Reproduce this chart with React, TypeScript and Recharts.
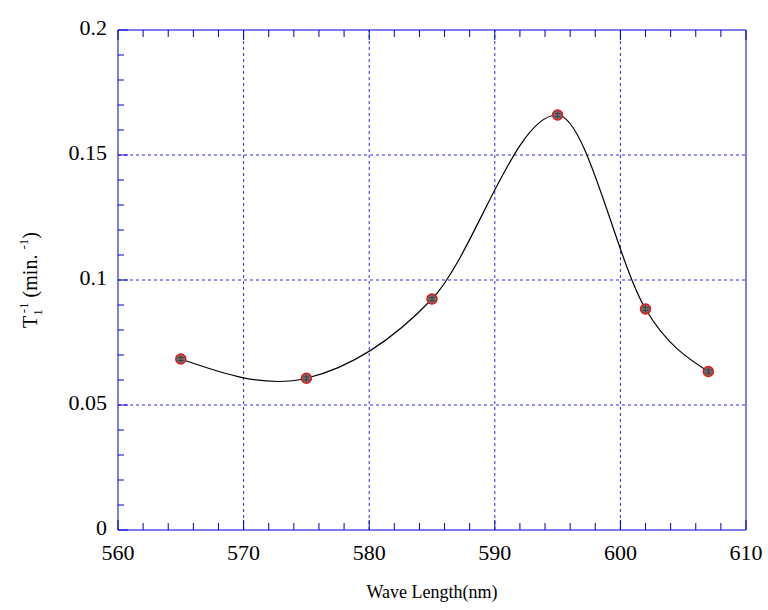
import { LineChart, Line, XAxis, YAxis, ReferenceLine } from "recharts";

// T1^-1 relaxation rate vs wavelength
const wavelength = [565, 575, 585, 595, 602, 607];
const rate = [0.0684, 0.0607, 0.0924, 0.166, 0.0884, 0.0634];

const xTicks = [560, 562, 564, 566, 568, 570, 572, 574, 576, 578, 580, 582, 584, 586, 588, 590, 592, 594, 596, 598, 600, 602, 604, 606, 608, 610];
const xMajor = [560, 570, 580, 590, 600, 610];
const xGrid = [570, 580, 590, 600];

const yTicks = [0, 0.01, 0.02, 0.03, 0.04, 0.05, 0.06, 0.07, 0.08, 0.09, 0.1, 0.11, 0.12, 0.13, 0.14, 0.15, 0.16, 0.17, 0.18, 0.19, 0.2];
const yMajor = [0, 0.05, 0.1, 0.15, 0.2];
const yGrid = [0.05, 0.1, 0.15];

const data = wavelength.map((wl, i) => ({ wl, t1: rate[i] }));

const AXIS = "#0000d0";
const GRID = "#2a2ae8";
const FONT = '"Liberation Serif", "Times New Roman", serif';
const txt = { fontFamily: FONT };

// smooth curve y(x): Hermite segments with finite-difference tangents
function smoothX(context: any) {
  let xs: number[] = [];
  let ys: number[] = [];
  return {
    areaStart() {},
    areaEnd() {},
    lineStart() {
      xs = [];
      ys = [];
    },
    point(x: number, y: number) {
      xs.push(+x);
      ys.push(+y);
    },
    lineEnd() {
      const n = xs.length;
      if (!n) return;
      context.moveTo(xs[0], ys[0]);
      if (n < 3) {
        if (n === 2) context.lineTo(xs[1], ys[1]);
        return;
      }
      const t: number[] = new Array(n).fill(0);
      for (let i = 1; i < n - 1; i++) t[i] = (ys[i + 1] - ys[i - 1]) / (xs[i + 1] - xs[i - 1]);
      const s0 = (ys[1] - ys[0]) / (xs[1] - xs[0]);
      const sn = (ys[n - 1] - ys[n - 2]) / (xs[n - 1] - xs[n - 2]);
      t[0] = (3 * s0 - t[1]) / 2;
      t[n - 1] = (3 * sn - t[n - 2]) / 2;
      for (let i = 0; i < n - 1; i++) {
        const h = xs[i + 1] - xs[i];
        context.bezierCurveTo(
          xs[i] + h / 3,
          ys[i] + (t[i] * h) / 3,
          xs[i + 1] - h / 3,
          ys[i + 1] - (t[i + 1] * h) / 3,
          xs[i + 1],
          ys[i + 1]
        );
      }
    },
  };
}

function BottomTick({ x, y, payload }: any) {
  const v = payload.value;
  const major = xMajor.includes(v);
  return (
    <g>
      <line x1={x} x2={x} y1={y} y2={y - (major ? 10 : 7)} stroke={AXIS} />
      {major && (
        <text x={x} y={y + 30} textAnchor="middle" fontSize={22} fontFamily={FONT} style={txt} fill="#000">
          {v}
        </text>
      )}
    </g>
  );
}

function TopTick({ x, y, payload }: any) {
  const major = xMajor.includes(payload.value);
  return <line x1={x} x2={x} y1={y} y2={y + (major ? 10 : 7)} stroke={AXIS} />;
}

function LeftTick({ x, y, payload }: any) {
  const v = payload.value;
  const major = yMajor.includes(v);
  return (
    <g>
      <line x1={x} x2={x + (major ? 10 : 6)} y1={y} y2={y} stroke={AXIS} />
      {major && (
        <text x={x - 11} y={y + 5} textAnchor="end" fontSize={22} fontFamily={FONT} style={txt} fill="#000">
          {String(v)}
        </text>
      )}
    </g>
  );
}

function RightTick({ x, y, payload }: any) {
  const major = yMajor.includes(payload.value);
  return <line x1={x} x2={x - (major ? 10 : 6)} y1={y} y2={y} stroke={AXIS} />;
}

const xLabel = ({ viewBox }: any) => (
  <text x={viewBox.x + viewBox.width / 2} y={viewBox.y + 68} textAnchor="middle" fontSize={18} fontFamily={FONT} style={txt} fill="#000">
    Wave Length(nm)
  </text>
);

const yLabel = ({ viewBox }: any) => {
  const cx = 37;
  const cy = viewBox.y + viewBox.height / 2;
  return (
    <text x={cx} y={cy} transform={`rotate(-90 ${cx} ${cy})`} textAnchor="middle" fontSize={20} fontFamily={FONT} style={txt} fill="#000">
      <tspan>T</tspan>
      <tspan fontSize={13} dy={5}>1</tspan>
      <tspan fontSize={13} dx={-4} dy={-14}>-1</tspan>
      <tspan dy={9}> (min. </tspan>
      <tspan fontSize={13} dy={-9}>-1</tspan>
      <tspan dy={9}>)</tspan>
    </text>
  );
};

const Marker = ({ cx, cy, index }: any) => (
  <g key={`m-${index}`}>
    <circle cx={cx} cy={cy} r={5} fill="#6e6e6e" stroke="#e01818" strokeWidth={1.5} />
    <line x1={cx - 3} x2={cx + 3} y1={cy - 1.5} y2={cy - 1.5} stroke="#333" strokeWidth={0.7} />
    <line x1={cx - 3} x2={cx + 3} y1={cy + 1.5} y2={cy + 1.5} stroke="#333" strokeWidth={0.7} />
    <line x1={cx} x2={cx} y1={cy - 3.5} y2={cy + 3.5} stroke="#333" strokeWidth={0.7} />
  </g>
);

export default function App() {
  return (
    <div style={{ position: "absolute", left: 0, top: 0, width: 768, height: 610, background: "#fff", fontFamily: FONT }}>
      <LineChart width={768} height={610} data={data} margin={{ top: 0, right: 0, bottom: 0, left: 0 }}>
        <XAxis
          dataKey="wl"
          type="number"
          domain={[560, 610]}
          ticks={xTicks}
          interval={0}
          height={80}
          tickSize={0}
          tickMargin={0}
          tickLine={false}
          axisLine={{ stroke: AXIS }}
          tick={BottomTick}
          label={xLabel}
        />
        <XAxis
          xAxisId="top"
          orientation="top"
          dataKey="wl"
          type="number"
          domain={[560, 610]}
          ticks={xTicks}
          interval={0}
          height={30}
          tickSize={0}
          tickMargin={0}
          tickLine={false}
          axisLine={{ stroke: AXIS }}
          tick={TopTick}
        />
        <YAxis
          type="number"
          domain={[0, 0.2]}
          ticks={yTicks}
          interval={0}
          width={118}
          tickSize={0}
          tickMargin={0}
          tickLine={false}
          axisLine={{ stroke: AXIS }}
          tick={LeftTick}
          label={yLabel}
        />
        <YAxis
          yAxisId="right"
          orientation="right"
          type="number"
          domain={[0, 0.2]}
          ticks={yTicks}
          interval={0}
          width={22}
          tickSize={0}
          tickMargin={0}
          tickLine={false}
          axisLine={{ stroke: AXIS }}
          tick={RightTick}
        />
        {xGrid.map((v) => (
          <ReferenceLine key={`gx${v}`} x={v} stroke={GRID} strokeDasharray="3 3" />
        ))}
        {yGrid.map((v) => (
          <ReferenceLine key={`gy${v}`} y={v} stroke={GRID} strokeDasharray="3 3" />
        ))}
        <Line
          type={smoothX as any}
          dataKey="t1"
          stroke="#000"
          strokeWidth={1.2}
          dot={Marker}
          activeDot={false}
          isAnimationActive={false}
        />
      </LineChart>
    </div>
  );
}
